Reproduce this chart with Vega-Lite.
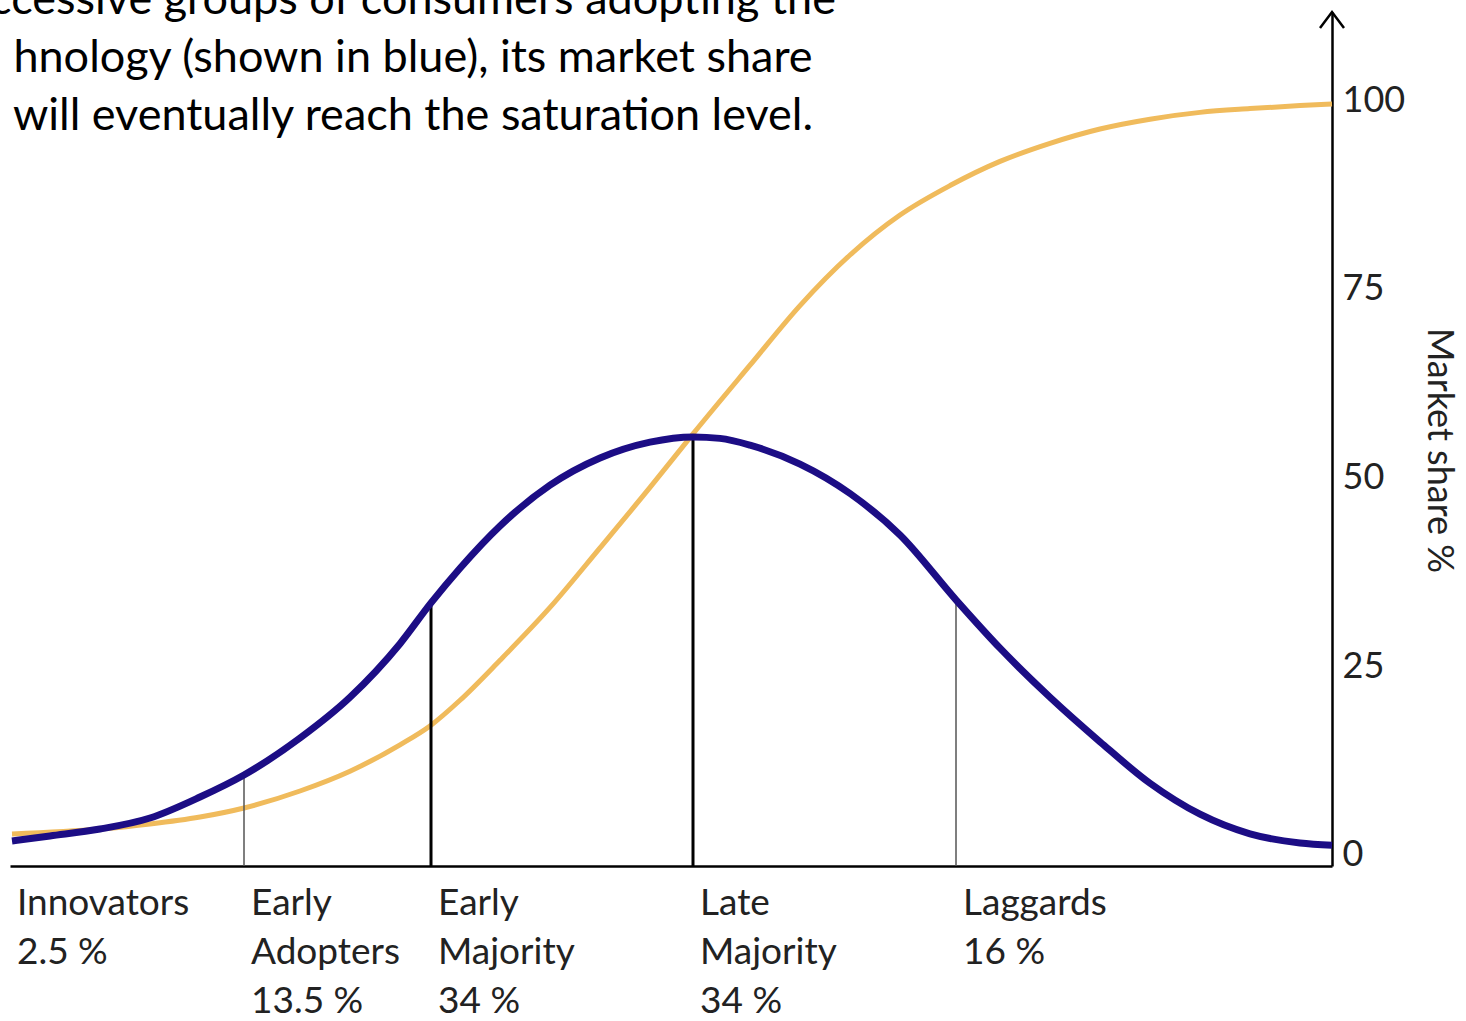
{
  "$schema": "https://vega.github.io/schema/vega-lite/v6.json",
  "width": 1322,
  "height": 854,
  "autosize": {"type": "none"},
  "padding": {"left": 10, "top": 12, "right": 134, "bottom": 155},
  "background": "white",
  "config": {"view": {"stroke": null}, "font": "Lato"},
  "datasets": {
    "curves": [
      {"series": "Market share", "x": 2, "share": 2.78},
      {"series": "Market share", "x": 90, "share": 3.44},
      {"series": "Market share", "x": 140, "share": 4.11},
      {"series": "Market share", "x": 190, "share": 5.03},
      {"series": "Market share", "x": 234, "share": 6.23},
      {"series": "Market share", "x": 290, "share": 8.48},
      {"series": "Market share", "x": 340, "share": 11.1},
      {"series": "Market share", "x": 390, "share": 14.6},
      {"series": "Market share", "x": 421, "share": 17.2},
      {"series": "Market share", "x": 450, "share": 20.5},
      {"series": "Market share", "x": 490, "share": 25.8},
      {"series": "Market share", "x": 540, "share": 32.8},
      {"series": "Market share", "x": 590, "share": 40.7},
      {"series": "Market share", "x": 640, "share": 48.7},
      {"series": "Market share", "x": 683, "share": 55.8},
      {"series": "Market share", "x": 740, "share": 64.9},
      {"series": "Market share", "x": 790, "share": 72.8},
      {"series": "Market share", "x": 840, "share": 79.5},
      {"series": "Market share", "x": 890, "share": 84.8},
      {"series": "Market share", "x": 940, "share": 88.7},
      {"series": "Market share", "x": 990, "share": 91.9},
      {"series": "Market share", "x": 1040, "share": 94.3},
      {"series": "Market share", "x": 1090, "share": 96.2},
      {"series": "Market share", "x": 1140, "share": 97.5},
      {"series": "Market share", "x": 1190, "share": 98.4},
      {"series": "Market share", "x": 1240, "share": 98.9},
      {"series": "Market share", "x": 1290, "share": 99.3},
      {"series": "Market share", "x": 1322, "share": 99.5},
      {"series": "Adopters", "x": 2, "share": 1.85},
      {"series": "Adopters", "x": 40, "share": 2.52},
      {"series": "Adopters", "x": 90, "share": 3.44},
      {"series": "Adopters", "x": 140, "share": 4.9},
      {"series": "Adopters", "x": 190, "share": 7.68},
      {"series": "Adopters", "x": 234, "share": 10.6},
      {"series": "Adopters", "x": 290, "share": 15.5},
      {"series": "Adopters", "x": 340, "share": 20.9},
      {"series": "Adopters", "x": 390, "share": 28.0},
      {"series": "Adopters", "x": 421, "share": 33.4},
      {"series": "Adopters", "x": 450, "share": 38.0},
      {"series": "Adopters", "x": 490, "share": 43.6},
      {"series": "Adopters", "x": 540, "share": 49.0},
      {"series": "Adopters", "x": 590, "share": 52.6},
      {"series": "Adopters", "x": 640, "share": 54.7},
      {"series": "Adopters", "x": 683, "share": 55.4},
      {"series": "Adopters", "x": 710, "share": 55.2},
      {"series": "Adopters", "x": 740, "share": 54.3},
      {"series": "Adopters", "x": 790, "share": 51.8},
      {"series": "Adopters", "x": 840, "share": 47.9},
      {"series": "Adopters", "x": 890, "share": 42.4},
      {"series": "Adopters", "x": 946, "share": 33.8},
      {"series": "Adopters", "x": 990, "share": 27.4},
      {"series": "Adopters", "x": 1040, "share": 20.9},
      {"series": "Adopters", "x": 1090, "share": 15.0},
      {"series": "Adopters", "x": 1140, "share": 9.5},
      {"series": "Adopters", "x": 1190, "share": 5.4},
      {"series": "Adopters", "x": 1240, "share": 2.8},
      {"series": "Adopters", "x": 1290, "share": 1.6},
      {"series": "Adopters", "x": 1322, "share": 1.3}
    ],
    "segments": [
      {"segment": "Innovators", "start": 0, "top": 1.85, "label": "Innovators\n2.5 %"},
      {"segment": "Early Adopters", "start": 234, "top": 10.6, "label": "Early\nAdopters\n13.5 %"},
      {"segment": "Early Majority", "start": 421, "top": 33.4, "label": "Early\nMajority\n34 %"},
      {"segment": "Late Majority", "start": 683, "top": 55.4, "label": "Late\nMajority\n34 %"},
      {"segment": "Laggards", "start": 946, "top": 33.8, "label": "Laggards\n16 %"}
    ]
  },
  "layer": [
    {
      "data": {"name": "curves"},
      "transform": [{"filter": "datum.series === 'Market share'"}],
      "mark": {"type": "line", "interpolate": "monotone", "strokeWidth": 5, "color": "#f0bb5c", "strokeCap": "butt"},
      "encoding": {
        "x": {
          "field": "x", "type": "quantitative",
          "scale": {"domain": [0, 1322], "nice": false, "zero": false},
          "axis": {"orient": "bottom", "labels": false, "ticks": false, "grid": false, "domain": true, "domainColor": "#000000", "domainWidth": 2.5, "title": null}
        },
        "y": {
          "field": "share", "type": "quantitative",
          "scale": {"domain": [-1.46, 111.7], "nice": false, "zero": false},
          "axis": {
            "orient": "right", "values": [0, 25, 50, 75, 100], "ticks": false, "grid": false, "domain": true,
            "domainColor": "#000000", "domainWidth": 2.5,
            "labelFontSize": 36, "labelColor": "#222222", "labelPadding": 10, "labelBaseline": "middle",
            "title": "Market share %", "titleAngle": 90, "titleFontSize": 36, "titleFontWeight": "normal",
            "titleColor": "#222222", "titleX": 106, "titleY": 438, "titleAlign": "center", "titleBaseline": "middle"
          }
        }
      }
    },
    {
      "data": {"name": "segments"},
      "transform": [{"filter": "datum.segment === 'Early Adopters' || datum.segment === 'Laggards'"}],
      "mark": {"type": "rule", "color": "#555555", "strokeWidth": 1.5},
      "encoding": {
        "x": {"field": "start", "type": "quantitative"},
        "y": {"field": "top", "type": "quantitative"},
        "y2": {"datum": -1.46}
      }
    },
    {
      "data": {"name": "segments"},
      "transform": [{"filter": "datum.segment === 'Early Majority' || datum.segment === 'Late Majority'"}],
      "mark": {"type": "rule", "color": "#000000", "strokeWidth": 3},
      "encoding": {
        "x": {"field": "start", "type": "quantitative"},
        "y": {"field": "top", "type": "quantitative"},
        "y2": {"datum": -1.46}
      }
    },
    {
      "data": {"name": "curves"},
      "transform": [{"filter": "datum.series === 'Adopters'"}],
      "mark": {"type": "line", "interpolate": "monotone", "strokeWidth": 7, "color": "#1c0d85", "strokeCap": "butt"},
      "encoding": {
        "x": {"field": "x", "type": "quantitative"},
        "y": {"field": "share", "type": "quantitative"}
      }
    },
    {
      "data": {"values": [{}]},
      "mark": {"type": "point", "shape": "M-0.75,1L0,0L0.75,1", "filled": false, "stroke": "#000000", "strokeWidth": 2.5, "size": 1024, "opacity": 1},
      "encoding": {
        "x": {"datum": 1322, "type": "quantitative"},
        "y": {"datum": 111.7, "type": "quantitative"}
      }
    },
    {
      "data": {"name": "segments"},
      "mark": {"type": "text", "align": "left", "baseline": "alphabetic", "lineBreak": "\n", "lineHeight": 49, "fontSize": 37, "color": "#222222", "dx": 7, "dy": 60},
      "encoding": {
        "x": {"field": "start", "type": "quantitative"},
        "y": {"datum": 0, "type": "quantitative"},
        "text": {"field": "label"}
      }
    },
    {
      "data": {"values": [{}]},
      "mark": {
        "type": "text", "align": "center", "baseline": "alphabetic", "lineHeight": 58, "fontSize": 45, "color": "#000000",
        "text": ["ccessive groups of consumers adopting the", "hnology (shown in blue), its market share", "will eventually reach the saturation level."]
      },
      "encoding": {
        "x": {"datum": 403, "type": "quantitative"},
        "y": {"datum": 111.4, "type": "quantitative"}
      }
    }
  ]
}
